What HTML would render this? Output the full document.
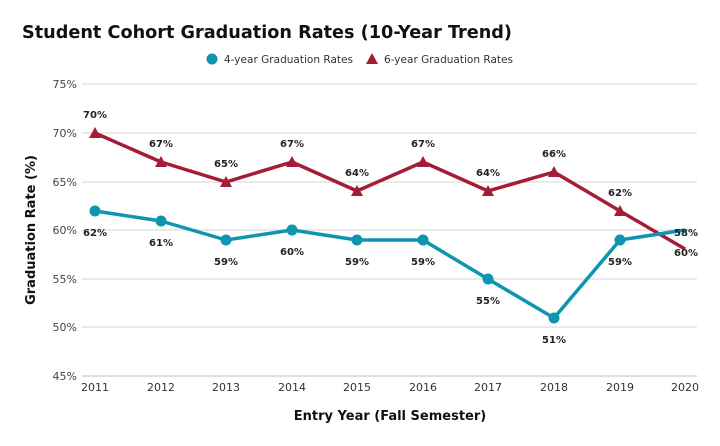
<!DOCTYPE html><html><head><style>body{margin:0;background:#fff}svg{display:block;font-family:Verdana,"DejaVu Sans",sans-serif}</style></head><body>
<svg width="720" height="446" xmlns="http://www.w3.org/2000/svg">
<text x="22" y="38" font-size="18" font-weight="bold" fill="#111" textLength="490" lengthAdjust="spacingAndGlyphs">Student Cohort Graduation Rates (10-Year Trend)</text>
<circle cx="212" cy="59" r="5.5" fill="#0e95b0"/><text x="224" y="63" font-size="11" fill="#333" textLength="129" lengthAdjust="spacingAndGlyphs">4-year Graduation Rates</text>
<polygon points="372,53 378,64 366,64" fill="#a51c36"/><text x="384" y="63" font-size="11" fill="#333" textLength="129" lengthAdjust="spacingAndGlyphs">6-year Graduation Rates</text>
<g stroke="#ddd" stroke-width="1.3">
<line x1="82" x2="697" y1="84" y2="84"/><line x1="82" x2="697" y1="133" y2="133"/><line x1="82" x2="697" y1="182" y2="182"/><line x1="82" x2="697" y1="230" y2="230"/><line x1="82" x2="697" y1="279" y2="279"/><line x1="82" x2="697" y1="327" y2="327"/><line x1="82" x2="697" y1="376" y2="376" stroke="#ccc"/></g>
<g font-size="11" fill="#444" text-anchor="end">
<text x="77" y="88">75%</text><text x="77" y="137">70%</text><text x="77" y="186">65%</text><text x="77" y="234">60%</text><text x="77" y="283">55%</text><text x="77" y="331">50%</text><text x="77" y="380">45%</text></g>
<g font-size="11" fill="#333" text-anchor="middle">
<text x="95" y="391">2011</text><text x="161" y="391">2012</text><text x="226" y="391">2013</text><text x="292" y="391">2014</text><text x="357" y="391">2015</text><text x="423" y="391">2016</text><text x="488" y="391">2017</text><text x="554" y="391">2018</text><text x="620" y="391">2019</text><text x="685" y="391">2020</text></g>
<text x="390" y="420" font-size="13" font-weight="bold" text-anchor="middle" fill="#111">Entry Year (Fall Semester)</text>
<text transform="translate(35,230) rotate(-90)" font-size="13" font-weight="bold" text-anchor="middle" fill="#111">Graduation Rate (%)</text>
<polyline fill="none" stroke="#a51c36" stroke-width="3.5" stroke-linejoin="round" points="95,133 161,162 226,182 292,162 357,191 423,162 488,191 554,172 620,211 685,249"/>
<g fill="#a51c36"><polygon points="95,127 101,138 89,138"/><polygon points="161,156 167,167 155,167"/><polygon points="226,176 232,187 220,187"/><polygon points="292,156 298,167 286,167"/><polygon points="357,185 363,196 351,196"/><polygon points="423,156 429,167 417,167"/><polygon points="488,185 494,196 482,196"/><polygon points="554,166 560,177 548,177"/><polygon points="620,205 626,216 614,216"/></g>
<polyline fill="none" stroke="#0e95b0" stroke-width="3.5" stroke-linejoin="round" points="95,211 161,221 226,240 292,230 357,240 423,240 488,279 554,318 620,240 685,230"/>
<g fill="#0e95b0"><circle cx="95" cy="211" r="5.5"/><circle cx="161" cy="221" r="5.5"/><circle cx="226" cy="240" r="5.5"/><circle cx="292" cy="230" r="5.5"/><circle cx="357" cy="240" r="5.5"/><circle cx="423" cy="240" r="5.5"/><circle cx="488" cy="279" r="5.5"/><circle cx="554" cy="318" r="5.5"/><circle cx="620" cy="240" r="5.5"/></g>
<g font-size="10" font-weight="bold" fill="#222" text-anchor="middle">
<text x="95" y="118">70%</text><text x="161" y="147">67%</text><text x="226" y="167">65%</text><text x="292" y="147">67%</text><text x="357" y="176">64%</text><text x="423" y="147">67%</text><text x="488" y="176">64%</text><text x="554" y="157">66%</text><text x="620" y="196">62%</text><text x="686" y="256">60%</text>
<text x="95" y="236">62%</text><text x="161" y="246">61%</text><text x="226" y="265">59%</text><text x="292" y="255">60%</text><text x="357" y="265">59%</text><text x="423" y="265">59%</text><text x="488" y="304">55%</text><text x="554" y="343">51%</text><text x="620" y="265">59%</text><text x="686" y="236">58%</text></g>
</svg></body></html>
